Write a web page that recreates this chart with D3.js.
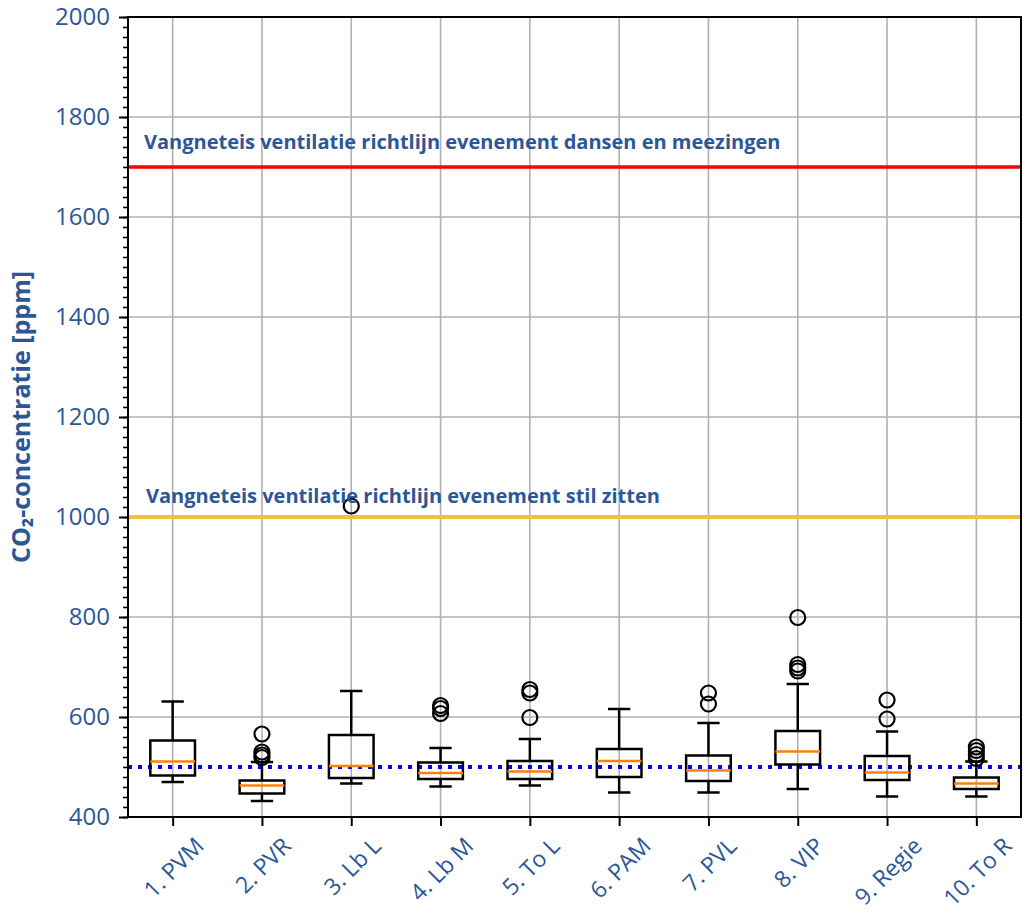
<!DOCTYPE html>
<html>
<head>
<meta charset="utf-8">
<script src="https://cdn.jsdelivr.net/npm/d3@7"></script>
<style>
  html, body { margin: 0; padding: 0; background: #ffffff; }
  svg { display: block; font-family: "Open Sans", "Noto Sans", "DejaVu Sans", sans-serif; }
</style>
</head>
<body>
<svg id="chart" width="1025" height="913"></svg>
<script>
// Measurement locations
const categories = ["1. PVM", "2. PVR", "3. Lb L", "4. Lb M", "5. To L", "6. PAM", "7. PVL", "8. VIP", "9. Regie", "10. To R"];

// Box statistics per location (ppm)
const whiskerLow  = [470, 432, 467, 461, 463, 449, 449, 456, 441, 441];
const q1          = [483, 447, 478, 476, 476, 480, 472, 505, 474, 456];
const medians     = [511, 463, 502, 488, 491, 512, 493, 531, 489, 467];
const q3          = [553, 473, 564, 509, 512, 536, 523, 572, 522, 479];
const whiskerHigh = [631, 510, 652, 538, 556, 616, 588, 666, 571, 511];
const fliers = [
  [],
  [566, 530, 524, 519],
  [1022],
  [623, 617, 607],
  [655, 648, 599],
  [],
  [648, 626],
  [799, 705, 698, 692],
  [634, 596],
  [540, 533, 525, 517]
];

// Guideline levels
const limitDance = 1700;
const limitSit = 1000;
const outdoorRef = 500;
const labelDance = "Vangneteis ventilatie richtlijn evenement dansen en meezingen";
const labelSit = "Vangneteis ventilatie richtlijn evenement stil zitten";

const yTicks = [400, 600, 800, 1000, 1200, 1400, 1600, 1800, 2000];
const yLabel = "CO\u2082-concentratie [ppm]";

const W = 1025, H = 913;
const margin = { top: 17, right: 4, bottom: 96, left: 128 };
const plotW = W - margin.left - margin.right;
const plotH = H - margin.top - margin.bottom;

const blue = "#2B5797";

const svg = d3.select("#chart");
const g = svg.append("g").attr("transform", `translate(${margin.left},${margin.top})`);

const x = d3.scaleLinear().domain([0.5, categories.length + 0.5]).range([0, plotW]);
const y = d3.scaleLinear().domain([400, 2000]).range([plotH, 0]);

// Grid
g.append("g").selectAll("line").data(yTicks).join("line")
  .attr("x1", 0).attr("x2", plotW)
  .attr("y1", d => y(d)).attr("y2", d => y(d))
  .attr("stroke", "#b0b0b0").attr("stroke-width", 1.6);
g.append("g").selectAll("line").data(categories).join("line")
  .attr("x1", (d, i) => x(i + 1)).attr("x2", (d, i) => x(i + 1))
  .attr("y1", 0).attr("y2", plotH)
  .attr("stroke", "#b0b0b0").attr("stroke-width", 1.6);

// Guideline lines
g.append("line")
  .attr("x1", 0).attr("x2", plotW).attr("y1", y(limitDance)).attr("y2", y(limitDance))
  .attr("stroke", "#ff0000").attr("stroke-width", 3.5);
g.append("line")
  .attr("x1", 0).attr("x2", plotW).attr("y1", y(limitSit)).attr("y2", y(limitSit))
  .attr("stroke", "#f0c23b").attr("stroke-width", 4);
g.append("line")
  .attr("x1", 0).attr("x2", plotW).attr("y1", y(outdoorRef)).attr("y2", y(outdoorRef))
  .attr("stroke", "#0000ff").attr("stroke-width", 4).attr("stroke-dasharray", "4,6");

// Box plots (box width 0.5, cap width 0.25 in category units)
const boxW = x(1.5) - x(1.25);
const capW = boxW / 2;
const boxes = g.append("g").attr("fill", "none").attr("stroke", "#000").attr("stroke-width", 2.5);
categories.forEach((c, i) => {
  const cx = x(i + 1);
  const bg = boxes.append("g");
  // whiskers
  bg.append("line").attr("x1", cx).attr("x2", cx).attr("y1", y(q1[i])).attr("y2", y(whiskerLow[i]));
  bg.append("line").attr("x1", cx).attr("x2", cx).attr("y1", y(q3[i])).attr("y2", y(whiskerHigh[i]));
  // caps
  bg.append("line").attr("x1", cx - capW).attr("x2", cx + capW).attr("y1", y(whiskerLow[i])).attr("y2", y(whiskerLow[i]));
  bg.append("line").attr("x1", cx - capW).attr("x2", cx + capW).attr("y1", y(whiskerHigh[i])).attr("y2", y(whiskerHigh[i]));
  // box
  bg.append("rect").attr("x", cx - boxW).attr("width", 2 * boxW)
    .attr("y", y(q3[i])).attr("height", y(q1[i]) - y(q3[i]));
  // median
  bg.append("line").attr("x1", cx - boxW).attr("x2", cx + boxW)
    .attr("y1", y(medians[i])).attr("y2", y(medians[i]))
    .attr("stroke", "#ff7f0e");
  // outliers
  bg.selectAll("circle").data(fliers[i]).join("circle")
    .attr("cx", cx).attr("cy", d => y(d)).attr("r", 7.5).attr("stroke-width", 2.2);
});

// Guideline annotations
g.append("text").attr("x", 16).attr("y", y(limitDance) - 18)
  .attr("fill", blue).attr("font-weight", "bold").attr("font-size", 20)
  .text(labelDance);
g.append("text").attr("x", 18).attr("y", y(limitSit) - 14)
  .attr("fill", blue).attr("font-weight", "bold").attr("font-size", 20)
  .text(labelSit);

// Axes
const yMinor = d3.range(400, 2001, 20);
const yMinorAxis = g.append("g")
  .call(d3.axisLeft(y).tickValues(yMinor).tickSize(5).tickFormat(""));
yMinorAxis.select(".domain").remove();
yMinorAxis.selectAll("line").attr("stroke", "#000").attr("stroke-width", 1.6);

const yAxis = g.append("g")
  .call(d3.axisLeft(y).tickValues(yTicks).tickSize(9).tickPadding(9).tickFormat(d3.format("d")));
yAxis.select(".domain").remove();
yAxis.selectAll("line").attr("stroke", "#000").attr("stroke-width", 2);
yAxis.selectAll("text").attr("fill", blue).attr("font-size", 24)
  .attr("font-family", "\"Open Sans\", \"Noto Sans\", sans-serif");

const xAxis = g.append("g").attr("transform", `translate(0,${plotH})`)
  .call(d3.axisBottom(x).tickValues(d3.range(1, categories.length + 1)).tickSize(9)
    .tickFormat(d => categories[d - 1]));
xAxis.select(".domain").remove();
xAxis.selectAll("line").attr("stroke", "#000").attr("stroke-width", 2);
xAxis.selectAll("text")
  .attr("fill", blue).attr("font-size", 23)
  .attr("font-family", "\"Open Sans\", \"Noto Sans\", sans-serif")
  .attr("text-anchor", "middle").attr("dominant-baseline", "central")
  .attr("dy", null).attr("y", 0).attr("x", 0)
  .each(function () {
    const L = this.getComputedTextLength();
    const h = 20;
    const off = 9 + 8 + (L + h) / 2 * Math.SQRT1_2;
    d3.select(this).attr("transform", `translate(0,${off}) rotate(-45)`);
  });

// Frame
g.append("rect").attr("x", 0).attr("y", 0).attr("width", plotW).attr("height", plotH)
  .attr("fill", "none").attr("stroke", "#000").attr("stroke-width", 2);

// Y axis title
svg.append("text")
  .attr("transform", `translate(30,${margin.top + plotH / 2}) rotate(-90)`)
  .attr("text-anchor", "middle")
  .attr("fill", blue).attr("font-weight", "bold").attr("font-size", 25)
  .text(yLabel);
</script>
</body>
</html>
